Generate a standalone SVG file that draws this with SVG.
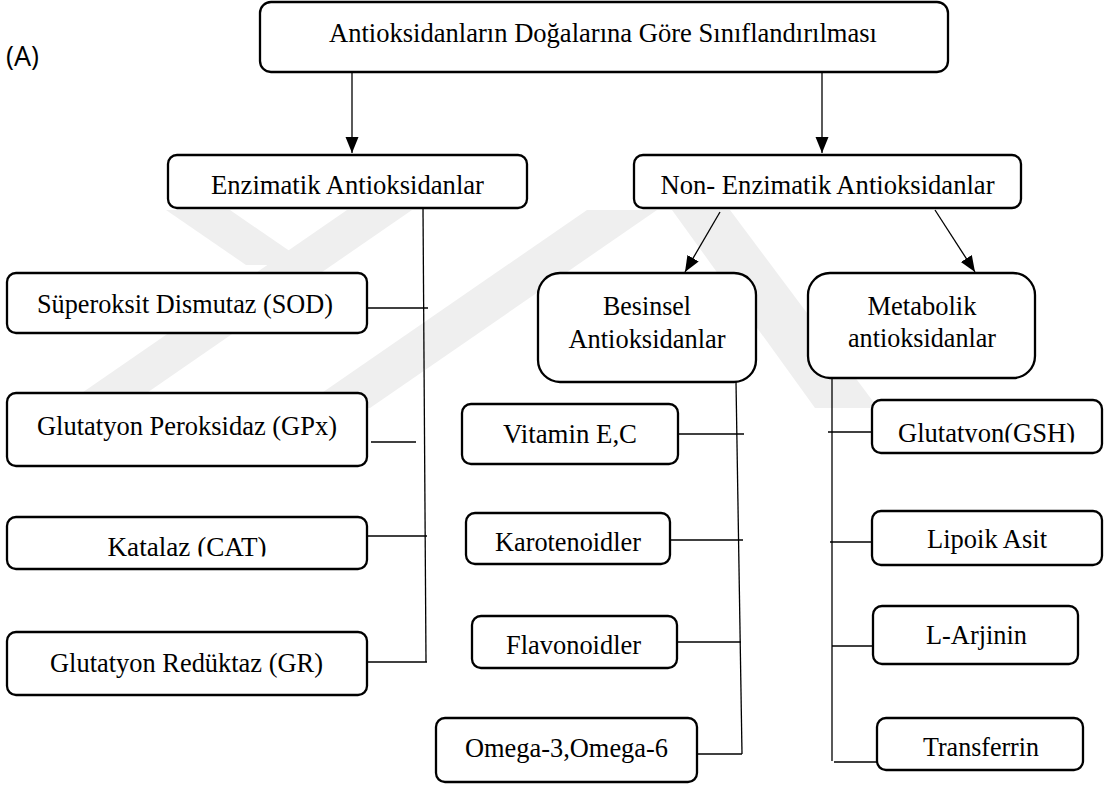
<svg xmlns="http://www.w3.org/2000/svg" width="1109" height="785" viewBox="0 0 1109 785">
<style>
.box{fill:#fff;stroke:#000;stroke-width:2.3}
.t{font-family:"Liberation Serif","Times New Roman",serif;font-size:27.5px;fill:#000;text-anchor:middle}
.c{fill:none;stroke:#000;stroke-width:1.3}
.wm{fill:#efefef;stroke:none}
</style>
<defs>
<marker id="ah" markerUnits="userSpaceOnUse" markerWidth="17" markerHeight="14" refX="16" refY="6.5" orient="auto">
<path d="M0,0 L16,6.5 L0,13 z" fill="#000"/>
</marker>
<clipPath id="clipCat"><rect x="0" y="500" width="400" height="56.5"/></clipPath>
<clipPath id="clipGsh"><rect x="860" y="395" width="249" height="47.5"/></clipPath>
</defs>
<rect width="1109" height="785" fill="#fff"/>
<g id="watermark">
<polygon class="wm" points="166,210 230,210 310,265 246,265"/>
<polygon class="wm" points="60,408 125,408 412,210 347,210"/>
<polygon class="wm" points="300,408 370,408 657,210 587,210"/>
<polygon class="wm" points="672,210 730,210 878,408 815,408"/>
</g>
<text x="6" y="66" style="font-family:'Open Sans','Noto Sans',sans-serif;font-size:27px;fill:#000">(A)</text>
<g id="connectors">
<line class="c" x1="352" y1="72" x2="352" y2="153" marker-end="url(#ah)"/>
<line class="c" x1="822" y1="72" x2="822" y2="153" marker-end="url(#ah)"/>
<line class="c" x1="720" y1="212" x2="685" y2="272" marker-end="url(#ah)"/>
<line class="c" x1="935" y1="210" x2="975" y2="272" marker-end="url(#ah)"/>
<polyline class="c" points="423,208 426,662"/>
<line class="c" x1="367" y1="308" x2="428" y2="308"/>
<line class="c" x1="371" y1="442" x2="416" y2="442"/>
<line class="c" x1="367" y1="536" x2="427" y2="536"/>
<line class="c" x1="368" y1="662" x2="427" y2="662"/>
<polyline class="c" points="736,382 742,754"/>
<line class="c" x1="678" y1="434" x2="744" y2="434"/>
<line class="c" x1="669" y1="540" x2="743" y2="540"/>
<line class="c" x1="678" y1="642" x2="741" y2="642"/>
<line class="c" x1="697" y1="754" x2="742" y2="754"/>
<line class="c" x1="832" y1="378" x2="832" y2="761"/>
<line class="c" x1="828" y1="432" x2="882" y2="432"/>
<line class="c" x1="830" y1="542" x2="880" y2="542"/>
<line class="c" x1="832" y1="646" x2="877" y2="646"/>
<line class="c" x1="834" y1="762" x2="886" y2="762"/>
</g>
<g id="n-title"><rect class="box" x="260" y="2" width="688" height="70" rx="11"/><text class="t" x="603" y="42" textLength="548" lengthAdjust="spacingAndGlyphs">Antioksidanların Doğalarına Göre Sınıflandırılması</text></g>
<g id="n-enz"><rect class="box" x="168" y="155" width="359" height="53" rx="9"/><text class="t" x="347.5" y="194" textLength="273" lengthAdjust="spacingAndGlyphs">Enzimatik Antioksidanlar</text></g>
<g id="n-nonenz"><rect class="box" x="634" y="155" width="387" height="53" rx="9"/><text class="t" x="827.5" y="194" textLength="334" lengthAdjust="spacingAndGlyphs">Non- Enzimatik Antioksidanlar</text></g>
<g id="n-besinsel"><rect class="box" x="538" y="273" width="218" height="109" rx="22"/><text class="t" x="647" y="315" textLength="88" lengthAdjust="spacingAndGlyphs">Besinsel</text><text class="t" x="647" y="348" textLength="157" lengthAdjust="spacingAndGlyphs">Antioksidanlar</text></g>
<g id="n-metabolik"><rect class="box" x="808" y="273" width="227" height="105" rx="22"/><text class="t" x="922" y="315" textLength="109" lengthAdjust="spacingAndGlyphs">Metabolik</text><text class="t" x="922" y="347" textLength="148" lengthAdjust="spacingAndGlyphs">antioksidanlar</text></g>
<g id="n-sod"><rect class="box" x="7" y="273" width="360" height="60" rx="9"/><text class="t" x="185" y="313" textLength="296" lengthAdjust="spacingAndGlyphs">Süperoksit Dismutaz (SOD)</text></g>
<g id="n-gpx"><rect class="box" x="7" y="393" width="360" height="73" rx="9"/><text class="t" x="187" y="435" textLength="300" lengthAdjust="spacingAndGlyphs">Glutatyon Peroksidaz (GPx)</text></g>
<g id="n-cat"><rect class="box" x="7" y="517" width="360" height="52" rx="9"/><text class="t" x="187" y="555.5" textLength="159" lengthAdjust="spacingAndGlyphs" clip-path="url(#clipCat)">Katalaz (CAT)</text></g>
<g id="n-gr"><rect class="box" x="7" y="632" width="360" height="63" rx="9"/><text class="t" x="186.5" y="672" textLength="273" lengthAdjust="spacingAndGlyphs">Glutatyon Redüktaz (GR)</text></g>
<g id="n-vit"><rect class="box" x="462" y="404" width="216" height="60" rx="9"/><text class="t" x="570" y="443" textLength="134" lengthAdjust="spacingAndGlyphs">Vitamin E,C</text></g>
<g id="n-karo"><rect class="box" x="466" y="513" width="204" height="51" rx="9"/><text class="t" x="568" y="551" textLength="146" lengthAdjust="spacingAndGlyphs">Karotenoidler</text></g>
<g id="n-flav"><rect class="box" x="472" y="616" width="205" height="52" rx="9"/><text class="t" x="573.5" y="654" textLength="135" lengthAdjust="spacingAndGlyphs">Flavonoidler</text></g>
<g id="n-omega"><rect class="box" x="436" y="718" width="261" height="64" rx="9"/><text class="t" x="566.5" y="757" textLength="203" lengthAdjust="spacingAndGlyphs">Omega-3,Omega-6</text></g>
<g id="n-gsh"><rect class="box" x="872" y="400" width="230" height="53" rx="9"/><text class="t" x="986.5" y="441.5" textLength="177" lengthAdjust="spacingAndGlyphs" clip-path="url(#clipGsh)">Glutatyon(GSH)</text></g>
<g id="n-lipoik"><rect class="box" x="872" y="511" width="230" height="54" rx="9"/><text class="t" x="987" y="548" textLength="120" lengthAdjust="spacingAndGlyphs">Lipoik Asit</text></g>
<g id="n-arj"><rect class="box" x="873" y="606" width="205" height="58" rx="9"/><text class="t" x="976.5" y="644" textLength="101" lengthAdjust="spacingAndGlyphs">L-Arjinin</text></g>
<g id="n-trans"><rect class="box" x="877" y="718" width="206" height="52" rx="9"/><text class="t" x="981" y="756" textLength="116" lengthAdjust="spacingAndGlyphs">Transferrin</text></g>
</svg>
